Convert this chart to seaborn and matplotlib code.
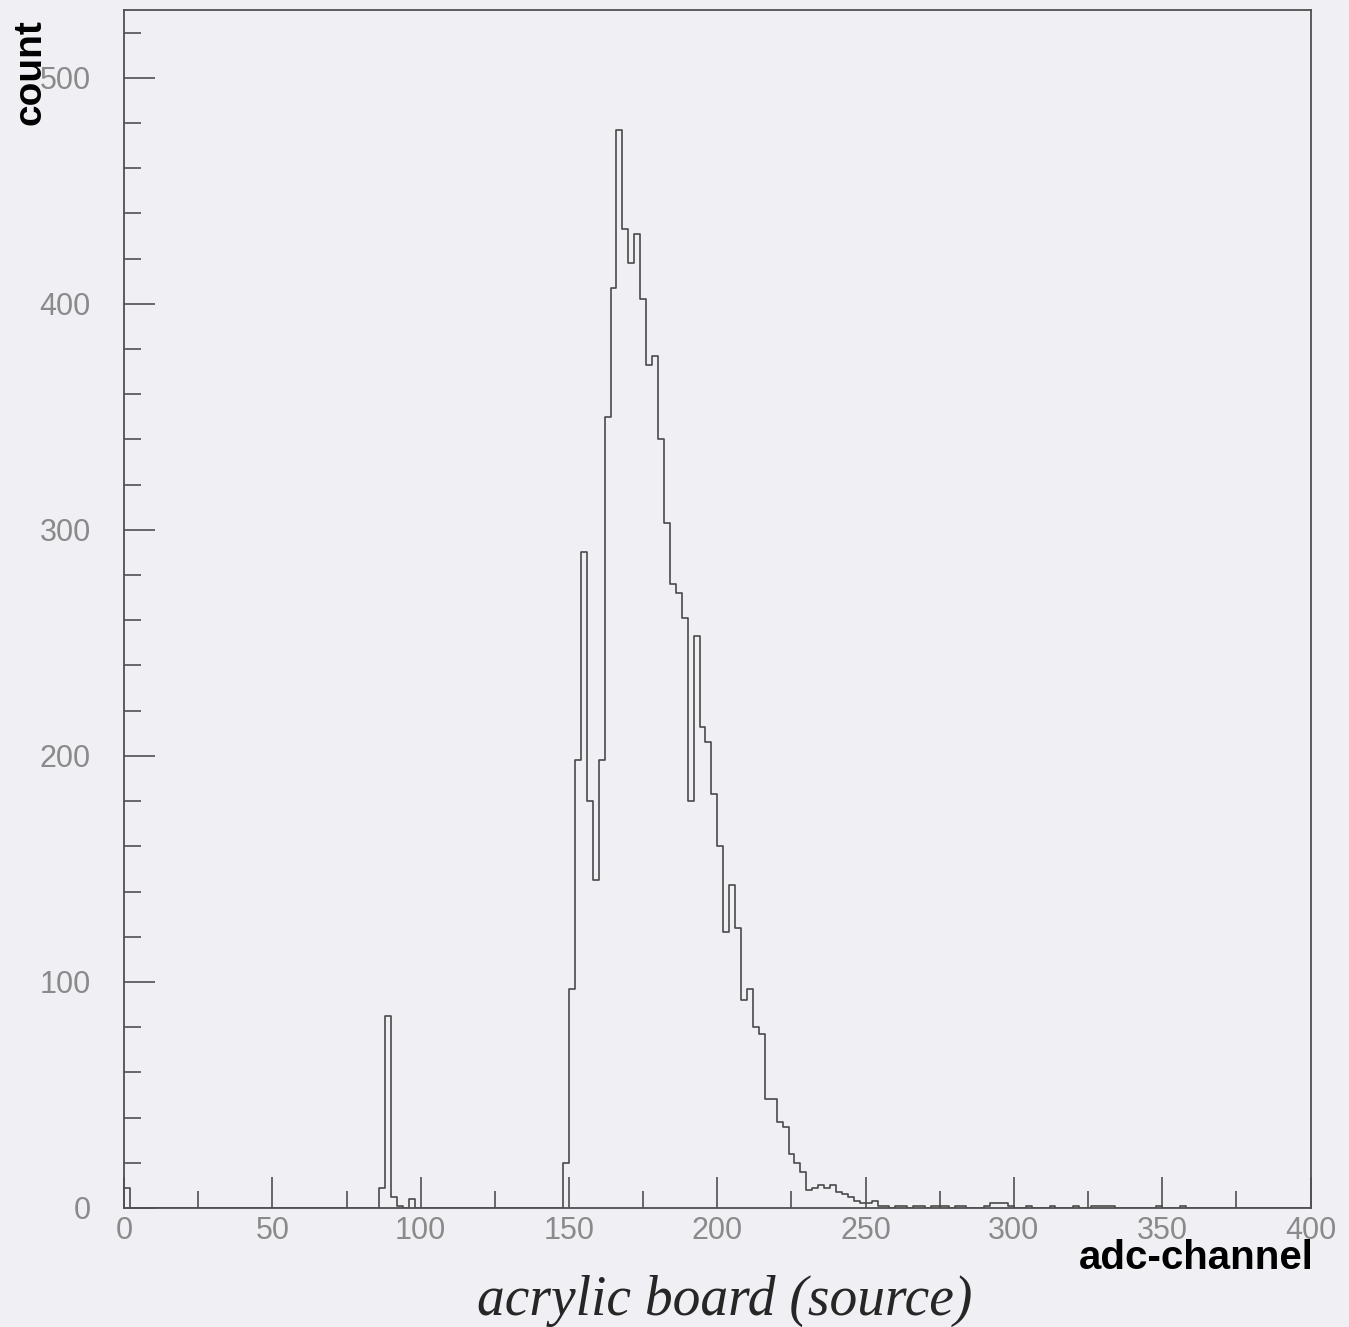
import numpy as np
import pandas as pd
import matplotlib
matplotlib.use("Agg")
import matplotlib.pyplot as plt
import seaborn as sns
from matplotlib.ticker import MultipleLocator

# histogram of adc channels, 2 channels per bin
bin_width = 2
n_channels = 400

# isolated low-channel bins (left edge, count)
low_channels = [0, 86, 88, 90, 92, 96]
low_counts = [9, 9, 85, 5, 1, 4]

# main peak, consecutive bins starting at channel 148
peak_start = 148
peak_counts = [20, 97, 198, 290, 180, 145, 198, 350, 407, 477,
               433, 418, 431, 402, 373, 377, 340, 303, 276, 272,
               261, 180, 253, 213, 206, 183, 160, 122, 143, 124,
               92, 97, 80, 77, 48, 48, 38, 36, 24, 20,
               16, 8, 9, 10, 9, 10, 7, 6, 5, 3, 2]

# sparse tail above 250
tail_channels = [250, 252, 254, 256, 260, 262, 266, 268, 272, 274, 276, 280, 282,
                 290, 292, 294, 296, 298, 304, 312, 320, 326, 328, 330, 332, 348, 356]
tail_counts = [2, 3, 1, 1, 1, 1, 1, 1, 1, 1, 1, 1, 1,
               1, 2, 2, 2, 1, 1, 1, 1, 1, 1, 1, 1, 1, 1]

edges = list(range(0, n_channels + bin_width, bin_width))
counts = pd.Series(0, index=edges[:-1])
for ch, c in zip(low_channels, low_counts):
    counts[ch] = c
for i, c in enumerate(peak_counts):
    counts[peak_start + i * bin_width] = c
for ch, c in zip(tail_channels, tail_counts):
    counts[ch] = c

df = pd.DataFrame({"channel": counts.index + bin_width / 2, "count": counts.values})

sns.set_style("ticks")
paper = "#f0f0f4"
ink = "#505050"
plt.rcParams["font.family"] = ["Liberation Sans", "DejaVu Sans"]

fig = plt.figure(figsize=(13.49, 13.27), dpi=100, facecolor=paper)
ax = fig.add_axes([0.092, 0.0897, 0.8795, 0.9028])
ax.set_facecolor(paper)

sns.histplot(data=df, x="channel", weights="count", bins=edges,
             element="step", fill=False, color="#4a4a4a", linewidth=1.2, ax=ax)

ax.set_xlim(0, 400)
ax.set_ylim(0, 530)
ax.xaxis.set_major_locator(MultipleLocator(50))
ax.xaxis.set_minor_locator(MultipleLocator(25))
ax.yaxis.set_major_locator(MultipleLocator(100))
ax.yaxis.set_minor_locator(MultipleLocator(20))

for side in ax.spines.values():
    side.set_color(ink)
    side.set_linewidth(1.3)

ax.tick_params(which="both", direction="in", color=ink, width=1.2,
               top=False, right=False, labelcolor="#8a8a8a", labelsize=22)
ax.tick_params(which="major", length=22)
ax.tick_params(which="minor", length=12)
ax.tick_params(axis="y", pad=24)
ax.tick_params(axis="x", pad=6)

ax.set_xlabel("adc-channel", fontsize=29, fontweight="bold", color="black", ha="right")
ax.xaxis.set_label_coords(1.003, -0.026)
ax.set_ylabel("count", fontsize=28, fontweight="bold", color="black")
ax.yaxis.set_label_coords(-0.064, 0.948)

fig.text(0.5375, 0.020, "acrylic board (source)", family="Liberation Serif",
         style="italic", fontsize=40, ha="center", va="center")

fig.savefig("out.png", dpi=100, facecolor=paper)
